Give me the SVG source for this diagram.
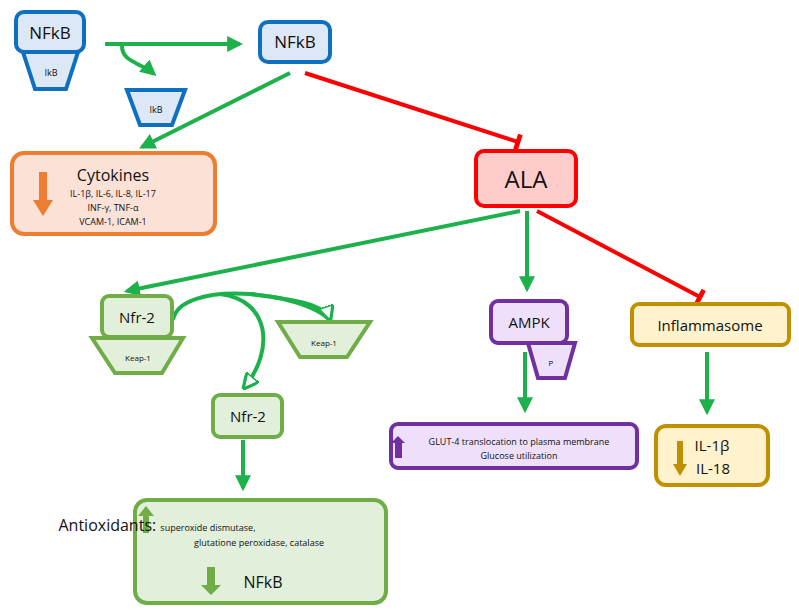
<svg xmlns="http://www.w3.org/2000/svg" width="799" height="616" viewBox="0 0 799 616">
<defs>
<style>
text{font-family:"Open Sans","Liberation Sans",sans-serif;fill:#111;text-anchor:middle}
.g{stroke:#1DB14B;stroke-width:4;fill:none}
.r{stroke:#F00;stroke-width:4;fill:none}
.blue{fill:#DDE8F6;stroke:#1070C0;stroke-width:4}
.grn{fill:#E2EFDA;stroke:#70AD47;stroke-width:4}
.pur{fill:#EEE0FA;stroke:#7030A0;stroke-width:4}
.yel{fill:#FFF2CC;stroke:#C09000;stroke-width:4}
</style>
<marker id="ah" viewBox="0 0 10 10" refX="8" refY="5" markerWidth="4" markerHeight="4" orient="auto"><path d="M0,0L10,5L0,10z" fill="#1DB14B"/></marker>
<marker id="oh" viewBox="0 0 10 10" refX="9" refY="5" markerWidth="4" markerHeight="4" orient="auto"><path d="M0,0L10,5L0,10z" fill="#fff" stroke="#1DB14B" stroke-width="2"/></marker>
<marker id="tb" viewBox="0 0 4 10" refX="2" refY="5" markerWidth="2" markerHeight="4" orient="auto"><path d="M2,0V10" stroke="#F00" stroke-width="3"/></marker>
</defs>
<g id="connectors">
<path class="g" d="M105,44H240" marker-end="url(#ah)"/>
<path class="g" d="M122,46C122,62 140,62 154,74" marker-end="url(#ah)"/>
<path class="g" d="M290,73L142,147" marker-end="url(#ah)"/>
<path class="r" d="M305,73L518,142" marker-end="url(#tb)"/>
<path class="g" d="M520,211L127,291" marker-end="url(#ah)"/>
<path class="g" d="M527,211V289" marker-end="url(#ah)"/>
<path class="r" stroke-width="6" d="M537,211L700,297" marker-end="url(#tb)"/>
<path class="g" stroke-width="5" d="M173,320C180,280 300,290 330,320"/>
<path class="g" d="M250,294C300,300 325,305 330,320" marker-end="url(#oh)"/>
<path class="g" d="M220,294C270,300 275,350 244,388" marker-end="url(#oh)"/>
<path class="g" d="M243,440V488" marker-end="url(#ah)"/>
<path class="g" d="M525,352V410" marker-end="url(#ah)"/>
<path class="g" d="M707,352V412" marker-end="url(#ah)"/>
</g>
<g id="nfkb-ikb">
<path class="blue" d="M23,52H78L66,89H35Z"/>
<rect class="blue" x="16" y="12" width="68" height="40" rx="8"/>
<text x="50" y="39" font-size="17">NFkB</text>
<text x="51" y="76" font-size="9">IkB</text>
</g>
<g id="ikb"><path class="blue" d="M127,90H185L172,125H140Z"/><text x="156" y="113" font-size="9">IkB</text></g>
<g id="nfkb"><rect class="blue" x="260" y="22" width="70" height="40" rx="8"/><text x="295" y="48" font-size="17">NFkB</text></g>
<g id="cytokines">
<rect x="12" y="153" width="203" height="81" rx="12" fill="#FCE2D6" stroke="#ED7D31" stroke-width="4"/>
<path d="M39,172H47V200H53L43,216L33,200H39Z" fill="#ED7D31"/>
<text x="113" y="181" font-size="16">Cytokines</text>
<text x="113" y="197" font-size="9">IL-1β, IL-6, IL-8, IL-17</text>
<text x="113" y="211" font-size="9">INF-γ, TNF-α</text>
<text x="113" y="225" font-size="9">VCAM-1, ICAM-1</text>
</g>
<g id="ala"><rect x="476" y="151" width="100" height="55" rx="8" fill="#FFCCCC" stroke="#F00" stroke-width="4"/><text x="526" y="188" font-size="24">ALA</text></g>
<g id="nfr2-keap">
<path class="grn" d="M92,338H183L162,373H115Z"/>
<rect class="grn" x="102" y="296" width="70" height="41" rx="7"/>
<text x="137" y="323" font-size="15">Nfr-2</text>
<text x="138" y="361" font-size="8">Keap-1</text>
</g>
<g id="keap1"><path class="grn" d="M278,322H370L347,357H300Z"/><text x="324" y="346" font-size="8">Keap-1</text></g>
<g id="nfr2"><rect class="grn" x="213" y="395" width="69" height="42" rx="7"/><text x="248" y="422" font-size="15">Nfr-2</text></g>
<g id="antioxidants">
<rect class="grn" x="135" y="500" width="251" height="103" rx="12"/>
<path d="M143,533H149V516H154L146,506L138,516H143Z" fill="#70AD47"/>
<text x="157" y="531" font-size="16" text-anchor="start">Antioxidants: <tspan font-size="9">superoxide dismutase,</tspan></text>
<text x="259" y="546" font-size="9">glutatione peroxidase, catalase</text>
<path d="M207,567H215V585H221L211,595L201,585H207Z" fill="#70AD47"/>
<text x="263" y="588" font-size="16">NFkB</text>
</g>
<g id="ampk">
<path class="pur" d="M528,343H575L565,378H538Z"/>
<rect class="pur" x="491" y="301" width="76" height="42" rx="7"/>
<text x="529" y="328" font-size="15">AMPK</text>
<text x="551" y="366" font-size="8">P</text>
</g>
<g id="glut">
<rect class="pur" x="391" y="424" width="246" height="44" rx="7"/>
<path d="M395,458H402V443H405L398,436L391,443H395Z" fill="#7030A0"/>
<text x="519" y="445" font-size="9">GLUT-4 translocation to plasma membrane</text>
<text x="519" y="459" font-size="9">Glucose utilization</text>
</g>
<g id="inflammasome"><rect class="yel" x="632" y="304" width="157" height="41" rx="7"/><text x="710" y="331" font-size="15">Inflammasome</text></g>
<g id="il"><rect class="yel" x="656" y="426" width="112" height="59" rx="10"/>
<path d="M677,441H683V464H687L680,476L673,464H677Z" fill="#BF9000"/>
<text x="712" y="451" font-size="15">IL-1β</text><text x="713" y="474" font-size="15">IL-18</text></g>
</svg>
